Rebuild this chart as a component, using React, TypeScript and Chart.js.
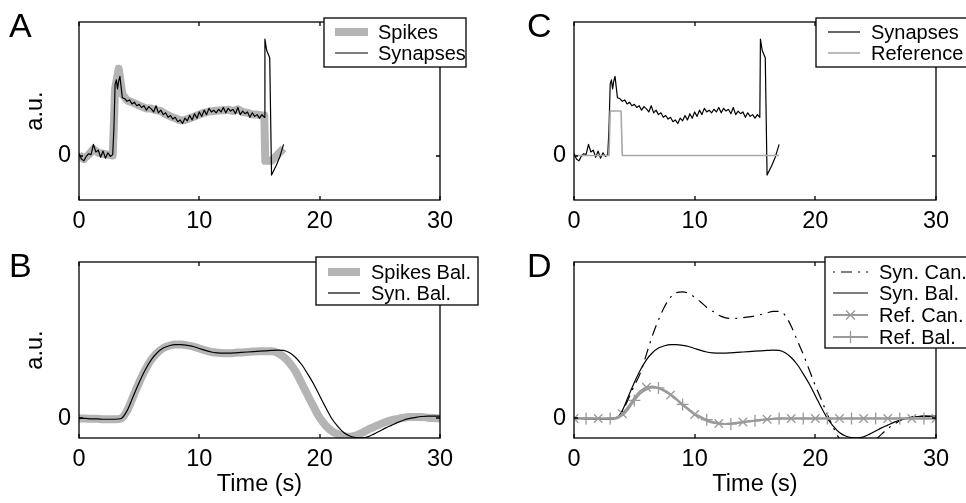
import React, { useEffect, useRef } from 'react';
import { Chart, registerables } from 'chart.js';

Chart.register(...registerables);

const FONT = "'Liberation Sans', Arial, Helvetica, sans-serif";

type Pt = [number, number];

// ---------- Panel A / C : raw traces ----------
const synapses: Pt[] = [
  [0, 0.05], [0.2, -0.08], [0.4, -0.12], [0.6, -0.02], [0.8, 0.04], [1.0, 0.02], [1.2, 0.25], [1.4, 0.08],
  [1.6, 0.12], [1.8, -0.04], [2.0, 0.1], [2.2, -0.06], [2.4, 0.06], [2.6, -0.02], [2.8, 0.02], [2.9, 0.6],
  [3.0, 1.6], [3.1, 1.7], [3.2, 1.5], [3.3, 1.68], [3.4, 1.78], [3.6, 1.3], [3.8, 1.28], [4.0, 1.22],
  [4.2, 1.25], [4.4, 1.16], [4.6, 1.2], [4.8, 1.12], [5.0, 1.15], [5.2, 1.08], [5.4, 1.12], [5.6, 1.02],
  [5.8, 1.1], [6.0, 1.05], [6.2, 0.98], [6.4, 1.12], [6.6, 0.96], [6.8, 1.02], [7.0, 0.92], [7.2, 0.96],
  [7.4, 0.86], [7.6, 0.9], [7.8, 0.82], [8.0, 0.86], [8.2, 0.76], [8.4, 0.8], [8.6, 0.72], [8.8, 0.84],
  [9.0, 0.78], [9.2, 0.9], [9.4, 0.8], [9.6, 0.94], [9.8, 0.84], [10.0, 0.98], [10.2, 0.88], [10.4, 1.02],
  [10.6, 0.92], [10.8, 1.06], [11.0, 0.98], [11.2, 1.02], [11.4, 0.96], [11.6, 1.04], [11.8, 0.98], [12.0, 1.08],
  [12.2, 0.96], [12.4, 1.06], [12.6, 1.0], [12.8, 1.04], [13.0, 0.94], [13.2, 1.08], [13.4, 0.92], [13.6, 1.0],
  [13.8, 0.94], [14.0, 0.98], [14.2, 0.86], [14.4, 0.96], [14.6, 0.88], [14.8, 0.92], [15.0, 0.84], [15.2, 0.92],
  [15.4, 0.86], [15.45, 2.62], [15.6, 2.36], [15.85, 2.2], [16.0, -0.44], [16.4, -0.22], [16.7, -0.02], [17.0, 0.25],
];

const spikes: Pt[] = [
  [0, 0.02], [0.4, -0.08], [0.8, 0.02], [1.2, 0.14], [1.6, 0.06], [2.0, 0.04], [2.4, 0.02], [2.8, 0.0],
  [3.0, 1.5], [3.3, 1.95], [3.6, 1.38], [4.0, 1.24], [4.4, 1.2], [4.8, 1.15], [5.2, 1.1], [5.6, 1.06],
  [6.0, 1.06], [6.4, 1.02], [6.8, 1.0], [7.2, 0.93], [7.6, 0.88], [8.0, 0.84], [8.4, 0.79], [8.8, 0.8],
  [9.2, 0.84], [9.6, 0.88], [10.0, 0.92], [10.4, 0.96], [10.8, 0.99], [11.2, 1.0], [11.6, 1.01], [12.0, 1.02],
  [12.4, 1.03], [12.8, 1.0], [13.2, 1.04], [13.6, 0.98], [14.0, 0.96], [14.4, 0.92], [14.8, 0.92], [15.2, 0.9],
  [15.4, 0.9], [15.48, -0.12], [16.0, -0.12], [17.0, 0.16],
];

const reference: Pt[] = [[0, 0], [2.9, 0], [3.0, 1.0], [3.9, 1.0], [4.0, 0], [17.0, 0]];

// ---------- Panel B / D : smoothed traces on a 0.5 s grid ----------
const tGrid = [
  0, 0.5, 1, 1.5, 2, 2.5, 3, 3.5, 4, 4.5, 5, 5.5, 6, 6.5, 7, 7.5, 8, 8.5, 9, 9.5,
  10, 10.5, 11, 11.5, 12, 12.5, 13, 13.5, 14, 14.5, 15, 15.5, 16, 16.5, 17, 17.5, 18, 18.5, 19, 19.5,
  20, 20.5, 21, 21.5, 22, 22.5, 23, 23.5, 24, 24.5, 25, 25.5, 26, 26.5, 27, 27.5, 28, 28.5, 29, 29.5, 30,
];

const synBal = [
  0, 0, -0.005, -0.005, -0.01, -0.01, -0.01, 0.0, 0.1, 0.28,
  0.46, 0.62, 0.75, 0.84, 0.9, 0.93, 0.945, 0.945, 0.935, 0.92,
  0.895, 0.87, 0.85, 0.84, 0.835, 0.835, 0.84, 0.845, 0.85, 0.855,
  0.86, 0.865, 0.87, 0.875, 0.87, 0.84, 0.78, 0.69, 0.57, 0.44,
  0.29, 0.14, 0.0, -0.1, -0.18, -0.225, -0.245, -0.248, -0.235, -0.2,
  -0.16, -0.12, -0.085, -0.05, -0.02, 0.0, 0.015, 0.025, 0.03, 0.03,
  0.03,
];

const spikesBal = [
  0, 0, -0.005, -0.005, -0.01, -0.01, -0.01, 0.0, 0.1, 0.28,
  0.46, 0.62, 0.75, 0.84, 0.9, 0.93, 0.945, 0.945, 0.935, 0.92,
  0.895, 0.87, 0.85, 0.84, 0.835, 0.835, 0.84, 0.845, 0.85, 0.855,
  0.86, 0.86, 0.86, 0.84, 0.79, 0.71, 0.6, 0.45, 0.3, 0.15,
  0.01, -0.09, -0.16, -0.2, -0.225, -0.235, -0.22, -0.185, -0.145, -0.11,
  -0.075, -0.045, -0.02, -0.005, 0.01, 0.018, 0.02, 0.018, 0.01, 0.005,
  0.0,
];

const synCan = [
  0, 0, 0, 0, 0, 0, 0, 0.01, 0.08, 0.25,
  0.42, 0.58, 0.82, 1.06, 1.26, 1.43, 1.55, 1.61, 1.62, 1.6,
  1.55, 1.49, 1.42, 1.37, 1.32, 1.29, 1.28, 1.28, 1.29, 1.3,
  1.31, 1.33, 1.35, 1.37, 1.37, 1.32, 1.18, 1.0, 0.82, 0.62,
  0.42, 0.24, 0.05, -0.12, -0.26, -0.36, -0.41, -0.42, -0.39, -0.34,
  -0.27, -0.2, -0.13, -0.08, -0.03, 0.0, 0.02, 0.025, 0.03, 0.025,
  0.02,
];

const refCan = [
  0, 0, 0, 0, 0, 0, 0, 0.01, 0.06, 0.15,
  0.26, 0.35, 0.4, 0.41, 0.39, 0.35, 0.3, 0.24, 0.17, 0.11,
  0.05, 0.01, -0.03, -0.055, -0.065, -0.07, -0.065, -0.055, -0.045, -0.035,
  -0.025, -0.018, -0.01, -0.005, 0, 0, 0, 0, 0, 0,
  0, 0, 0, 0, 0, 0, 0, 0, 0, 0,
  0, 0, 0, 0, 0, 0, 0, 0, 0, 0,
  0,
];

const refBal = [
  0, 0, 0, 0, 0, 0, 0, 0.0, 0.04, 0.12,
  0.23, 0.32, 0.37, 0.395, 0.39, 0.36, 0.31, 0.25, 0.18, 0.12,
  0.06, 0.02, -0.015, -0.045, -0.06, -0.07, -0.07, -0.06, -0.05, -0.04,
  -0.03, -0.02, -0.012, -0.006, 0, 0, 0, 0, 0, 0,
  0, 0, 0, 0, 0, 0, 0, 0, 0, 0,
  0, 0, 0, 0, 0, 0, 0, 0, 0, 0,
  0,
];

const xTicks = [0, 10, 20, 30];
const yTicks = [0];

// ---------- helpers ----------
const fromPairs = (p: Pt[]) => p.map(([x, y]) => ({ x, y }));
const fromGrid = (vals: number[]) => tGrid.map((x, i) => ({ x, y: vals[i] }));

const AXIS_FONT = 23.5;
const LEGEND_FONT = 20;

const framePlugin = {
  id: 'frame',
  afterDatasetsDraw(chart: any) {
    const { ctx, chartArea } = chart;
    const { left, right, top, bottom } = chartArea;
    const L = Math.round(left), R = Math.round(right), T = Math.round(top), B = Math.round(bottom);
    ctx.save();
    ctx.strokeStyle = '#000';
    ctx.lineWidth = 1.3;
    ctx.setLineDash([]);
    ctx.strokeRect(L, T, R - L, B - T);
    const tl = 4;
    ctx.beginPath();
    chart.scales.x.ticks.forEach((t: any) => {
      const px = Math.round(chart.scales.x.getPixelForValue(t.value));
      ctx.moveTo(px, B); ctx.lineTo(px, B - tl);
      ctx.moveTo(px, T); ctx.lineTo(px, T + tl);
    });
    chart.scales.y.ticks.forEach((t: any) => {
      const py = Math.round(chart.scales.y.getPixelForValue(t.value));
      ctx.moveTo(L, py); ctx.lineTo(L + tl, py);
      ctx.moveTo(R, py); ctx.lineTo(R - tl, py);
    });
    ctx.stroke();
    ctx.restore();
  },
};

function drawMarker(ctx: CanvasRenderingContext2D, style: string, x: number, y: number, r: number) {
  ctx.beginPath();
  if (style === 'crossRot') {
    const d = r * 0.75;
    ctx.moveTo(x - d, y - d); ctx.lineTo(x + d, y + d);
    ctx.moveTo(x - d, y + d); ctx.lineTo(x + d, y - d);
  } else {
    ctx.moveTo(x - r, y); ctx.lineTo(x + r, y);
    ctx.moveTo(x, y - r); ctx.lineTo(x, y + r);
  }
  ctx.stroke();
}

const boxLegendPlugin = {
  id: 'boxLegend',
  afterDraw(chart: any, _args: any, opts: any) {
    if (!opts || !opts.box) return;
    const { ctx } = chart;
    const { x, y, w, h } = opts.box;
    ctx.save();
    ctx.fillStyle = '#fff';
    ctx.fillRect(x, y, w, h);
    ctx.strokeStyle = '#000';
    ctx.lineWidth = 1.3;
    ctx.setLineDash([]);
    ctx.strokeRect(x, y, w, h);
    chart.data.datasets.forEach((ds: any, i: number) => {
      const ry = opts.rows[i];
      ctx.strokeStyle = ds.borderColor;
      ctx.lineWidth = ds.borderWidth;
      ctx.lineCap = 'butt';
      ctx.setLineDash(ds.borderDash || []);
      ctx.lineDashOffset = ds.borderDashOffset || 0;
      ctx.beginPath();
      ctx.moveTo(opts.sample[0], ry);
      ctx.lineTo(opts.sample[1], ry);
      ctx.stroke();
      ctx.setLineDash([]);
      if (ds.legendMarker) {
        ctx.lineWidth = ds.pointBorderWidth || 1;
        drawMarker(ctx, ds.legendMarker, (opts.sample[0] + opts.sample[1]) / 2, ry, 6);
      }
      ctx.fillStyle = '#000';
      ctx.font = `${opts.fontSize}px ${FONT}`;
      ctx.textBaseline = 'middle';
      ctx.textAlign = 'left';
      ctx.fillText(ds.label, opts.textX, ry + 1);
    });
    ctx.restore();
  },
};

const letterPlugin = {
  id: 'letter',
  afterDraw(chart: any, _args: any, opts: any) {
    if (!opts || !opts.text) return;
    const { ctx } = chart;
    ctx.save();
    ctx.fillStyle = '#000';
    ctx.font = `34px ${FONT}`;
    ctx.textBaseline = 'alphabetic';
    ctx.textAlign = 'left';
    ctx.fillText(opts.text, opts.x, opts.y);
    ctx.restore();
  },
};

interface PanelSpec {
  key: string;
  left: number; top: number; w: number; h: number;
  plotLeft: number; plotRight: number; plotTop: number; plotBottom: number;
  yMin: number; yMax: number;
  yTitle?: string; xTitle?: string;
  letter: { text: string; x: number; y: number };
  legend: any;
  datasets: any[];
}

function buildConfig(s: PanelSpec): any {
  const n = s.datasets.length;
  const datasets = s.datasets.map((d, i) => ({
    fill: false,
    pointRadius: 0,
    pointHoverRadius: 0,
    tension: 0,
    borderJoinStyle: 'round',
    borderCapStyle: 'butt',
    ...d,
    order: n - 1 - i,
  }));
  return {
    type: 'line',
    data: { datasets },
    options: {
      animation: false,
      responsive: false,
      events: [],
      parsing: true,
      layout: { padding: { left: 0, right: s.w - s.plotRight, top: s.plotTop, bottom: 0 } },
      plugins: {
        legend: { display: false },
        tooltip: { enabled: false },
        boxLegend: s.legend,
        letter: s.letter,
      },
      scales: {
        x: {
          type: 'linear',
          min: 0,
          max: 30,
          afterBuildTicks: (sc: any) => { sc.ticks = xTicks.map((v) => ({ value: v })); },
          afterFit: (sc: any) => { sc.height = s.h - s.plotBottom; },
          grid: { display: false, drawTicks: false },
          border: { display: false },
          ticks: { color: '#000', font: { family: FONT, size: AXIS_FONT }, padding: 7, maxRotation: 0, autoSkip: false },
          title: s.xTitle
            ? { display: true, text: s.xTitle, color: '#000', font: { family: FONT, size: AXIS_FONT }, padding: { top: 0, bottom: 4 } }
            : { display: false },
        },
        y: {
          type: 'linear',
          min: s.yMin,
          max: s.yMax,
          afterBuildTicks: (sc: any) => { sc.ticks = yTicks.map((v) => ({ value: v })); },
          afterFit: (sc: any) => { sc.width = s.plotLeft; },
          grid: { display: false, drawTicks: false },
          border: { display: false },
          ticks: { color: '#000', font: { family: FONT, size: AXIS_FONT }, padding: 8 },
          title: s.yTitle
            ? { display: true, text: s.yTitle, color: '#000', font: { family: FONT, size: AXIS_FONT }, padding: { top: 21, bottom: 0 } }
            : { display: false },
        },
      },
    },
    plugins: [framePlugin, boxLegendPlugin, letterPlugin],
  };
}

const BLACK = '#000000';
const SPIKE_GRAY = '#b4b4b4';
const REF_GRAY = '#a8a8a8';
const MARK_GRAY = '#9a9a9a';

const panels: PanelSpec[] = [
  {
    key: 'A', left: 0, top: 0, w: 483, h: 240,
    plotLeft: 79, plotRight: 440, plotTop: 9, plotBottom: 200,
    yMin: -1, yMax: 3, yTitle: 'a.u.',
    letter: { text: 'A', x: 9, y: 37 },
    legend: { box: { x: 324, y: 18, w: 142, h: 49 }, rows: [32, 53], sample: [335, 368], textX: 378, fontSize: LEGEND_FONT },
    datasets: [
      { label: 'Spikes', data: fromPairs(spikes), borderColor: SPIKE_GRAY, borderWidth: 8 },
      { label: 'Synapses', data: fromPairs(synapses), borderColor: BLACK, borderWidth: 1.2 },
    ],
  },
  {
    key: 'C', left: 483, top: 0, w: 483, h: 240,
    plotLeft: 91, plotRight: 453, plotTop: 9, plotBottom: 200,
    yMin: -1, yMax: 3,
    letter: { text: 'C', x: 44, y: 37 },
    legend: { box: { x: 333, y: 18, w: 160, h: 49 }, rows: [32, 53], sample: [345, 377], textX: 388, fontSize: LEGEND_FONT },
    datasets: [
      { label: 'Synapses', data: fromPairs(synapses), borderColor: BLACK, borderWidth: 1.2 },
      { label: 'Reference', data: fromPairs(reference), borderColor: REF_GRAY, borderWidth: 1.6 },
    ],
  },
  {
    key: 'B', left: 0, top: 240, w: 483, h: 263,
    plotLeft: 79, plotRight: 440, plotTop: 7, plotBottom: 198,
    yMin: -0.25, yMax: 2.0, yTitle: 'a.u.', xTitle: 'Time (s)',
    letter: { text: 'B', x: 9, y: 37 },
    legend: { box: { x: 316, y: 17, w: 162, h: 48 }, rows: [32, 53], sample: [328, 360], textX: 371, fontSize: LEGEND_FONT },
    datasets: [
      { label: 'Spikes Bal.', data: fromGrid(spikesBal), borderColor: SPIKE_GRAY, borderWidth: 8, cubicInterpolationMode: 'monotone' },
      { label: 'Syn. Bal.', data: fromGrid(synBal), borderColor: BLACK, borderWidth: 1.2, cubicInterpolationMode: 'monotone' },
    ],
  },
  {
    key: 'D', left: 483, top: 240, w: 483, h: 263,
    plotLeft: 91, plotRight: 453, plotTop: 7, plotBottom: 198,
    yMin: -0.25, yMax: 2.0, xTitle: 'Time (s)',
    letter: { text: 'D', x: 44, y: 37 },
    legend: { box: { x: 342, y: 17, w: 160, h: 91 }, rows: [32, 53, 75, 97], sample: [350, 385], textX: 396, fontSize: LEGEND_FONT },
    datasets: [
      { label: 'Syn. Can.', data: fromGrid(synCan), borderColor: BLACK, borderWidth: 1.2, borderDash: [11, 6, 2, 6], borderDashOffset: 17, cubicInterpolationMode: 'monotone' },
      { label: 'Syn. Bal.', data: fromGrid(synBal), borderColor: BLACK, borderWidth: 1.2, cubicInterpolationMode: 'monotone' },
      {
        label: 'Ref. Can.', data: fromGrid(refCan), borderColor: MARK_GRAY, borderWidth: 2, cubicInterpolationMode: 'monotone',
        pointStyle: 'crossRot', pointBorderColor: MARK_GRAY, pointBorderWidth: 1.3, legendMarker: 'crossRot',
        pointRadius: (c: any) => (c.dataIndex % 4 === 0 ? 6 : 0),
      },
      {
        label: 'Ref. Bal.', data: fromGrid(refBal), borderColor: MARK_GRAY, borderWidth: 2, cubicInterpolationMode: 'monotone',
        pointStyle: 'cross', pointBorderColor: MARK_GRAY, pointBorderWidth: 1.3, legendMarker: 'cross',
        pointRadius: (c: any) => (c.dataIndex % 4 === 2 ? 6 : 0),
      },
    ],
  },
];

function Panel({ spec }: { spec: PanelSpec }) {
  const ref = useRef<HTMLCanvasElement | null>(null);
  useEffect(() => {
    if (!ref.current) return;
    const chart = new Chart(ref.current, buildConfig(spec));
    return () => chart.destroy();
  }, [spec]);
  return (
    <canvas
      ref={ref}
      width={spec.w}
      height={spec.h}
      style={{ position: 'absolute', left: spec.left, top: spec.top, width: spec.w, height: spec.h, display: 'block' }}
    />
  );
}

export default function App() {
  return (
    <div style={{ position: 'absolute', left: 0, top: 0, width: 966, height: 503, background: '#fff', overflow: 'hidden' }}>
      {panels.map((p) => (
        <Panel key={p.key} spec={p} />
      ))}
    </div>
  );
}
